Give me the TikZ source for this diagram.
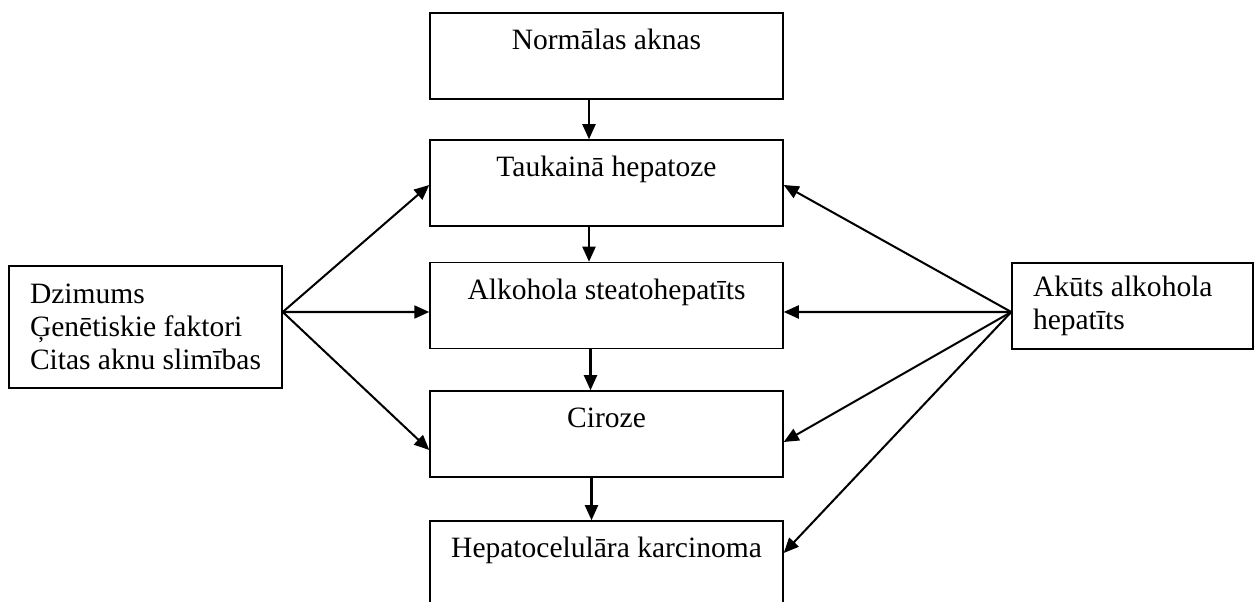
\documentclass[tikz,border=0pt]{standalone}
\usepackage{fontspec}
\setmainfont{Liberation Serif}
\usepackage{tikz}
\usetikzlibrary{arrows.meta,positioning,calc}

\begin{document}
\begin{tikzpicture}[
  bx/.style={draw,line width=0.85pt,minimum width=7.06cm,minimum height=1.72cm,align=center,font=\fontsize{16.8}{18.8}\selectfont},
  sbx/.style={draw,line width=0.85pt,align=flush left,font=\fontsize{16.8}{18.8}\selectfont},
  ar/.style={line width=1.15pt,-{Triangle[length=3mm,width=2.6mm]}}
]
\useasboundingbox (0,0) rectangle (25.08,12.04);
% ---- middle column: stages ----
\node[bx] (norm) at (12.13,10.92) {Normālas aknas\\\mbox{}};
\node[bx] (tauk) at (12.13,8.38)  {Taukainā hepatoze\\\mbox{}};
\node[bx] (stea) at (12.13,5.93)  {Alkohola steatohepatīts\\\mbox{}};
\node[bx] (ciro) at (12.13,3.36)  {Ciroze\\\mbox{}};
\node[bx] (karc) at (12.13,0.76)  {Hepatocelulāra karcinoma\\\mbox{}};
% ---- side boxes ----
\node[sbx,minimum height=2.44cm,text width=4.62cm,inner xsep=0.42cm] (fakt) at (2.91,5.50)
  {Dzimums\\Ģenētiskie faktori\\Citas aknu slimības};
\node[sbx,minimum height=1.72cm,text width=3.98cm,inner xsep=0.42cm] (akut) at (22.65,5.92)
  {Akūts alkohola\\hepatīts};
% ---- down the column ----
\draw[ar] ($(norm.south)+(-0.35,0)$) -- ($(tauk.north)+(-0.35,0)$);
\draw[ar] ($(tauk.south)+(-0.35,0)$) -- ($(stea.north)+(-0.35,0)$);
\draw[ar] ($(stea.south)+(-0.32,0)$) -- ($(ciro.north)+(-0.32,0)$);
\draw[ar] ($(ciro.south)+(-0.3,0)$) -- ($(karc.north)+(-0.3,0)$);
% ---- fans from the side boxes ----
\coordinate (lhub) at ($(fakt.east)+(0,0.3)$);
\coordinate (rhub) at ($(akut.west)+(0,-0.12)$);
\draw[ar] (lhub) -- ($(tauk.west)+(0,-0.04)$);
\draw[ar] (lhub) -- ($(stea.west)+(0,-0.13)$);
\draw[ar] (lhub) -- ($(ciro.west)+(0,-0.32)$);
\draw[ar] (rhub) -- ($(tauk.east)+(0,-0.04)$);
\draw[ar] (rhub) -- ($(stea.east)+(0,-0.13)$);
\draw[ar] (rhub) -- ($(ciro.east)+(0,-0.16)$);
\draw[ar] (rhub) -- ($(karc.east)+(0,0.22)$);
\end{tikzpicture}
\end{document}
